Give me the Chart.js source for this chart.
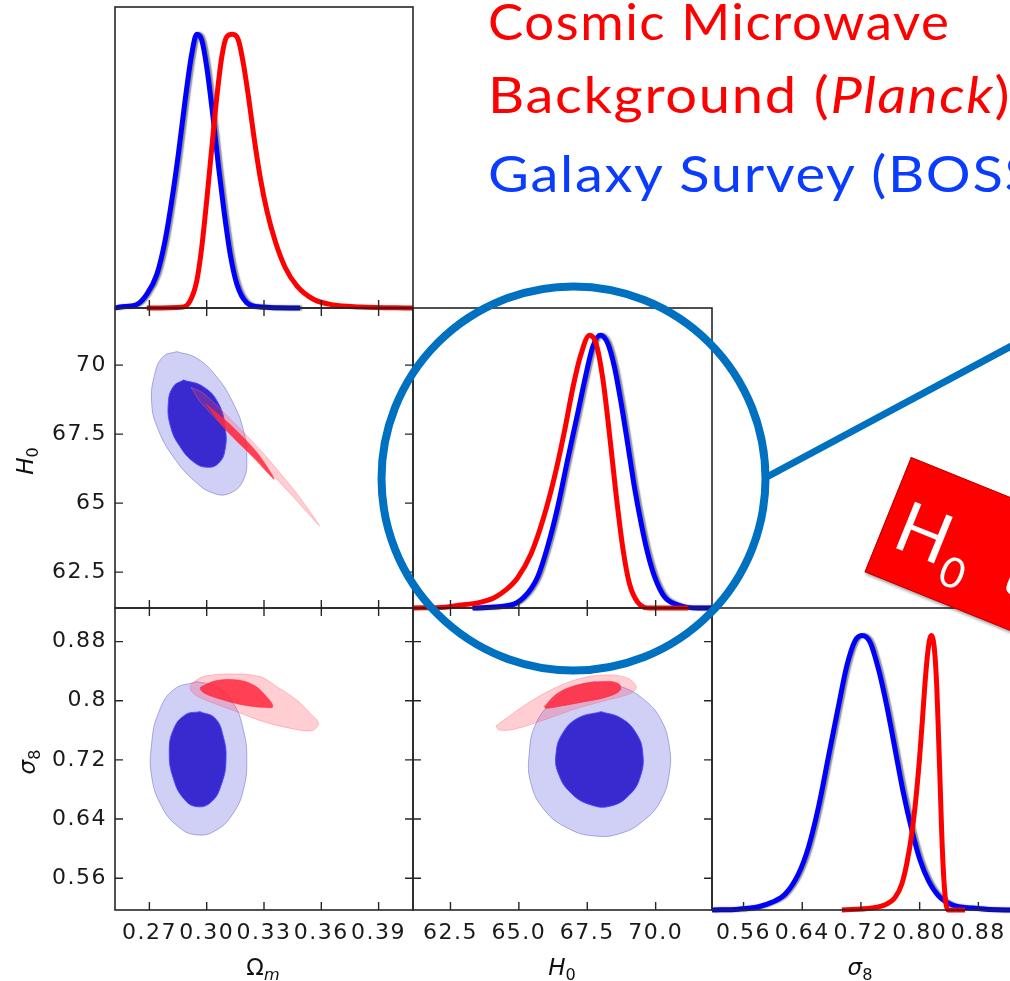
<!DOCTYPE html>
<html>
<head>
<meta charset="utf-8">
<script src="https://cdn.jsdelivr.net/npm/chart.js@4.4.1/dist/chart.umd.min.js"></script>
<style>
  html, body { margin: 0; padding: 0; background: #fff; }
  #page { position: relative; width: 1010px; height: 981px; overflow: hidden; background: #fff; }
  canvas.panel { position: absolute; left: 0; top: 0; }
  .ttl { position: absolute; left: 488px; font-family: "Lato"; font-size: 51px; line-height: 51px; white-space: nowrap;
         letter-spacing: 1.5px; transform-origin: 0 0; }
  .red { color: #ff0000; }
  .blue { color: #0a3cff; }
  .lab { position: absolute; transform: translate(-50%, -50%); font-family: "DejaVu Sans"; font-size: 23px; color: #111; white-space: nowrap; }
  .lab sub { font-size: 70%; vertical-align: -0.3em; line-height: 0; }
  #tag { position: absolute; left: 911px; top: 457px; width: 420px; height: 124px; background: #ff0000;
         transform-origin: 0 0; transform: rotate(22deg); box-shadow: 2px 2px 3px rgba(0,0,0,0.35); border: 1px solid #c00000; box-sizing: border-box; }
  #tag span { position: absolute; left: 13px; top: 27px; font-family: "Lato"; font-size: 70px; line-height: 70px; color: #fff;
              white-space: nowrap; letter-spacing: 2px; word-spacing: 14px; }
  #tag sub { font-size: 60%; vertical-align: -0.4em; line-height: 0; }
</style>
</head>
<body>
<div id="page">
  <canvas id="pOm" class="panel" width="1040" height="981"></canvas>
  <canvas id="pOmH0" class="panel" width="1040" height="981"></canvas>
  <canvas id="pH0" class="panel" width="1040" height="981"></canvas>
  <canvas id="pOmS8" class="panel" width="1040" height="981"></canvas>
  <canvas id="pH0S8" class="panel" width="1040" height="981"></canvas>
  <canvas id="pS8" class="panel" width="1040" height="981"></canvas>

  <svg width="1010" height="981" style="position:absolute;left:0;top:0">
    <circle cx="573.5" cy="478.5" r="192" fill="none" stroke="#0070c0" stroke-width="8"/>
    <line x1="764" y1="478.5" x2="1030" y2="336" stroke="#0070c0" stroke-width="7"/>
  </svg>

  <div class="ttl red" style="top:-5px;transform:scaleX(1.035)">Cosmic Microwave</div>
  <div class="ttl red" style="top:68px;transform:scaleX(1.1)">Background (<i>Planck</i>)</div>
  <div class="ttl blue" style="top:147px;transform:scaleX(1.1)">Galaxy Survey (BOSS)</div>

  <div id="tag"><span>H<sub>0</sub> tension</span></div>

  <div class="lab" style="left:263px;top:967px">&Omega;<sub><i>m</i></sub></div>
  <div class="lab" style="left:562px;top:967px"><i>H</i><sub>0</sub></div>
  <div class="lab" style="left:860px;top:967px"><i>&sigma;</i><sub>8</sub></div>
  <div class="lab" style="left:25px;top:461px;transform:translate(-50%,-50%) rotate(-90deg)"><i>H</i><sub>0</sub></div>
  <div class="lab" style="left:27px;top:762px;transform:translate(-50%,-50%) rotate(-90deg)"><i>&sigma;</i><sub>8</sub></div>
</div>

<script>
// axis ranges and ticks
const omRange = [0.252, 0.408];
const h0RangeX = [61.13, 72.06];
const h0RangeY = [61.2, 72.07];
const s8RangeX = [0.517, 0.9245];
const s8RangeY = [0.517, 0.9255];
const omTicks = [0.27, 0.30, 0.33, 0.36, 0.39];
const omLabels = ["0.27", "0.30", "0.33", "0.36", "0.39"];
const h0Ticks = [62.5, 65, 67.5, 70];
const h0LabelsX = ["62.5", "65.0", "67.5", "70.0"];
const h0LabelsY = ["62.5", "65", "67.5", "70"];
const s8Ticks = [0.56, 0.64, 0.72, 0.80, 0.88];
const s8LabelsX = ["0.56", "0.64", "0.72", "0.80", "0.88"];
const s8LabelsY = ["0.56", "0.64", "0.72", "0.8", "0.88"];

// 1D marginals (normalised to peak = 1)
const omPlanckX = [0.2686, 0.2878, 0.2913, 0.2948, 0.2974, 0.3000, 0.3027, 0.3053, 0.3079, 0.3105, 0.3135, 0.3166, 0.3192, 0.3219, 0.3245, 0.3280, 0.3315, 0.3358, 0.3411, 0.3472, 0.3559, 0.3664, 0.3803, 0.4080];
const omPlanckY = [0, 0.004, 0.026, 0.099, 0.221, 0.392, 0.588, 0.771, 0.918, 0.991, 1.0, 0.979, 0.893, 0.771, 0.637, 0.478, 0.356, 0.246, 0.148, 0.081, 0.032, 0.011, 0.004, 0];
const omBossX = [0.252, 0.2547, 0.2634, 0.2686, 0.2739, 0.2782, 0.2817, 0.2852, 0.2887, 0.2922, 0.2948, 0.2974, 0.3000, 0.3035, 0.3062, 0.3088, 0.3123, 0.3158, 0.3210, 0.3280, 0.3489];
const omBossY = [0, 0.004, 0.013, 0.050, 0.123, 0.246, 0.392, 0.564, 0.759, 0.930, 1.0, 0.979, 0.881, 0.686, 0.515, 0.368, 0.197, 0.087, 0.019, 0.004, 0];

const h0PlanckX = [61.13, 62.3, 62.9, 63.5, 64.1, 64.55, 64.95, 65.45, 65.9, 66.3, 66.65, 67.0, 67.27, 67.58, 67.82, 68.07, 68.31, 68.55, 68.8, 69.04, 69.35, 69.8, 71.2];
const h0PlanckY = [0, 0.003, 0.011, 0.019, 0.038, 0.068, 0.11, 0.2, 0.33, 0.48, 0.64, 0.82, 0.93, 1.0, 0.97, 0.84, 0.64, 0.42, 0.22, 0.09, 0.02, 0, 0];
const h0BossX = [63.3, 64.71, 65.2, 65.69, 66.05, 66.42, 66.78, 67.15, 67.46, 67.70, 67.97, 68.25, 68.49, 68.74, 68.98, 69.22, 69.47, 69.71, 69.96, 70.32, 70.81, 71.54, 72.06];
const h0BossY = [0, 0.011, 0.041, 0.115, 0.225, 0.37, 0.543, 0.714, 0.86, 0.958, 1.0, 0.97, 0.885, 0.75, 0.60, 0.445, 0.31, 0.2, 0.115, 0.041, 0.011, 0, 0];

const s8BossX = [0.517, 0.5532, 0.5805, 0.5986, 0.6168, 0.6349, 0.6486, 0.6622, 0.6758, 0.6894, 0.7008, 0.7121, 0.7212, 0.7325, 0.7439, 0.7552, 0.7666, 0.7779, 0.7893, 0.8006, 0.8120, 0.8256, 0.8437, 0.8710, 0.9164, 0.9245];
const s8BossY = [0, 0.003, 0.012, 0.028, 0.058, 0.132, 0.230, 0.376, 0.560, 0.743, 0.890, 0.981, 1.0, 0.975, 0.877, 0.743, 0.584, 0.425, 0.291, 0.181, 0.107, 0.052, 0.019, 0.007, 0, 0];
const s8PlanckX = [0.6939, 0.7348, 0.7530, 0.7666, 0.7757, 0.7825, 0.7893, 0.7947, 0.7997, 0.8038, 0.8074, 0.8111, 0.8156, 0.8201, 0.8233, 0.8256, 0.8279, 0.8301, 0.8328, 0.8356, 0.8383, 0.8619];
const s8PlanckY = [0, 0.007, 0.019, 0.046, 0.095, 0.169, 0.278, 0.401, 0.547, 0.694, 0.829, 0.939, 1.0, 0.951, 0.816, 0.645, 0.462, 0.278, 0.120, 0.028, 0, 0];

// 2D contours (68% inner, 95% outer)
const omH0BossOuterX = [0.2843, 0.2948, 0.3052, 0.3139, 0.3192, 0.3210, 0.3192, 0.3122, 0.3035, 0.2930, 0.2825, 0.2747, 0.2712, 0.2729, 0.2773, 0.2843];
const omH0BossOuterY = [70.49, 70.25, 69.58, 68.62, 67.65, 66.68, 65.84, 65.36, 65.36, 65.84, 66.68, 67.65, 68.62, 69.70, 70.31, 70.49];
const omH0BossInnerX = [0.2878, 0.2982, 0.3061, 0.3096, 0.3096, 0.3061, 0.3000, 0.2930, 0.2860, 0.2811, 0.2799, 0.2825, 0.2878];
const omH0BossInnerY = [69.46, 69.22, 68.62, 67.77, 66.93, 66.44, 66.30, 66.50, 67.05, 67.77, 68.62, 69.22, 69.46];
const omH0PlanckOuterX = [0.2918, 0.2982, 0.3122, 0.3297, 0.3471, 0.3590, 0.3453, 0.3279, 0.3105, 0.2965, 0.2918];
const omH0PlanckOuterY = [69.20, 68.98, 68.07, 66.80, 65.36, 64.18, 65.23, 66.50, 67.65, 68.68, 69.20];
const omH0PlanckInnerX = [0.2996, 0.3122, 0.3262, 0.3353, 0.3244, 0.3105, 0.2996];
const omH0PlanckInnerY = [68.59, 67.85, 66.84, 65.87, 66.66, 67.62, 68.59];

const omS8BossOuterX = [0.2948, 0.3052, 0.3139, 0.3192, 0.3210, 0.3192, 0.3139, 0.3052, 0.2948, 0.2851, 0.2765, 0.2712, 0.2712, 0.2747, 0.2825, 0.2948];
const omS8BossOuterY = [0.8259, 0.8191, 0.7967, 0.7606, 0.7200, 0.6794, 0.6479, 0.6253, 0.6186, 0.6298, 0.6568, 0.6974, 0.7426, 0.7832, 0.8147, 0.8259];
const omS8BossInnerX = [0.2965, 0.3044, 0.3087, 0.3101, 0.3079, 0.3026, 0.2948, 0.2878, 0.2825, 0.2804, 0.2825, 0.2887, 0.2965];
const omS8BossInnerY = [0.7853, 0.7764, 0.7515, 0.7200, 0.6885, 0.6636, 0.6568, 0.6682, 0.6953, 0.7291, 0.7606, 0.7809, 0.7853];
const omS8PlanckOuterX = [0.2922, 0.2982, 0.3122, 0.3279, 0.3367, 0.3471, 0.3541, 0.3585, 0.3550, 0.3436, 0.3297, 0.3157, 0.3035, 0.2939, 0.2913, 0.2922];
const omS8PlanckOuterY = [0.8237, 0.8327, 0.8363, 0.8327, 0.8191, 0.8011, 0.7832, 0.7696, 0.7596, 0.7629, 0.7718, 0.7853, 0.7967, 0.8079, 0.8170, 0.8237];
const omS8PlanckInnerX = [0.2991, 0.3052, 0.3157, 0.3244, 0.3305, 0.3346, 0.3297, 0.3192, 0.3087, 0.2989, 0.2966, 0.2991];
const omS8PlanckInnerY = [0.8214, 0.8273, 0.8282, 0.8214, 0.8079, 0.7921, 0.7912, 0.7944, 0.8011, 0.8102, 0.8170, 0.8214];

const h0S8BossOuterX = [67.76, 68.74, 69.59, 70.20, 70.50, 70.50, 70.20, 69.59, 68.74, 67.76, 66.79, 65.93, 65.44, 65.38, 65.63, 66.30, 67.03, 67.76];
const h0S8BossOuterY = [0.8259, 0.8191, 0.8011, 0.7741, 0.7380, 0.7020, 0.6659, 0.6389, 0.6209, 0.6172, 0.6276, 0.6524, 0.6885, 0.7291, 0.7696, 0.8011, 0.8191, 0.8259];
const h0S8BossInnerX = [68.01, 68.74, 69.29, 69.53, 69.44, 69.04, 68.37, 67.64, 66.91, 66.44, 66.36, 66.60, 67.15, 68.01];
const h0S8BossInnerY = [0.7853, 0.7764, 0.7561, 0.7291, 0.6974, 0.6727, 0.6578, 0.6591, 0.6750, 0.7020, 0.7291, 0.7561, 0.7764, 0.7853];
const h0S8PlanckOuterX = [64.16, 64.59, 65.32, 66.30, 67.27, 68.25, 68.98, 69.29, 69.10, 68.25, 67.15, 65.93, 64.83, 64.28, 64.16];
const h0S8PlanckOuterY = [0.7660, 0.7777, 0.7967, 0.8170, 0.8305, 0.8350, 0.8305, 0.8191, 0.8102, 0.8011, 0.7899, 0.7741, 0.7615, 0.7606, 0.7660];
const h0S8PlanckInnerX = [65.93, 66.42, 67.15, 68.01, 68.62, 68.71, 68.25, 67.40, 66.54, 65.99, 65.93];
const h0S8PlanckInnerY = [0.7921, 0.8102, 0.8214, 0.8259, 0.8237, 0.8147, 0.8056, 0.7988, 0.7930, 0.7899, 0.7921];

const W = 1040, H = 981;
const BLUE = "#0000ff", RED = "#ff0000";

function pts(xs, ys) { return xs.map((x, i) => ({ x: x, y: ys[i] })); }

// 1D curve, blue ones get a grey "shadow" like the grey chain under them
function curve(xs, ys, color, order, shadow) {
  return { data: pts(xs, ys), borderColor: color, borderWidth: 5, pointRadius: 0, fill: false,
           cubicInterpolationMode: "monotone", order: order, shadow: shadow,
           clip: { left: 0, right: 0, top: 0, bottom: 4 } };
}
function region(xs, ys, fillCol, edge, order, tension) {
  return { data: pts(xs, ys), fill: "shape", backgroundColor: fillCol, borderColor: edge, borderWidth: 1,
           pointRadius: 0, tension: tension, order: order };
}

function axis(pos, range, ticks, labels, size) {
  const a = {
    type: "linear", position: pos, min: range[0], max: range[1], display: size > 0,
    grid: { display: false, drawTicks: false }, border: { display: false },
    afterBuildTicks: s => { s.ticks = ticks.map(v => ({ value: v })); },
    ticks: { autoSkip: false, maxRotation: 0, minRotation: 0, padding: pos === "left" ? 8 : 10,
             font: { family: "DejaVu Sans", size: 22 }, color: "#1a1a1a",
             callback: (v, i) => labels[i] }
  };
  if (size > 0) a.afterFit = s => { if (pos === "left") s.width = size; else s.height = size; };
  return a;
}

// frame and inward ticks
const frameTicks = {
  id: "frameTicks",
  beforeDraw(chart) { chart.ctx.letterSpacing = "1.5px"; },
  afterDraw(chart, args, o) {
    const { ctx, chartArea: a, scales } = chart;
    ctx.save();
    ctx.strokeStyle = "#262626";
    ctx.lineWidth = 1.6;
    ctx.strokeRect(a.left, a.top, a.right - a.left, a.bottom - a.top);
    ctx.lineWidth = 1.4;
    ctx.beginPath();
    (o.xTicks || []).forEach(v => {
      const px = scales.x.getPixelForValue(v);
      ctx.moveTo(px, a.bottom); ctx.lineTo(px, a.bottom - 8);
      if (o.box) { ctx.moveTo(px, a.top); ctx.lineTo(px, a.top + 8); }
    });
    (o.yTicks || []).forEach(v => {
      const py = scales.y.getPixelForValue(v);
      ctx.moveTo(a.left, py); ctx.lineTo(a.left + 8, py);
      ctx.moveTo(a.right, py); ctx.lineTo(a.right - 8, py);
    });
    ctx.stroke();
    ctx.restore();
  }
};
const greyShadow = {
  id: "greyShadow",
  beforeDatasetDraw(chart, args) {
    if (!chart.data.datasets[args.index].shadow) return;
    const ctx = chart.ctx;
    ctx.save();
    ctx.shadowColor = "rgba(0,0,0,0.45)";
    ctx.shadowOffsetX = 2;
    ctx.shadowBlur = 1.5;
  },
  afterDatasetDraw(chart, args) {
    if (chart.data.datasets[args.index].shadow) chart.ctx.restore();
  }
};

// box = [left, top, right, bottom] of the plot area
function panel(id, box, datasets, xAx, yAx, tickOpts, showLeft, showBottom) {
  return new Chart(document.getElementById(id), {
    type: "line",
    data: { datasets: datasets },
    options: {
      responsive: false, animation: false, events: [],
      layout: { padding: { left: showLeft ? 0 : box[0], top: box[1], right: W - box[2], bottom: showBottom ? 0 : H - box[3] } },
      plugins: { legend: { display: false }, tooltip: { enabled: false }, frameTicks: tickOpts },
      scales: { x: xAx, y: yAx }
    },
    plugins: [frameTicks, greyShadow]
  });
}

const oneD = [0, 1.1];
const col = [[115, 413], [413, 712], [712, 1011]];
const row = [[7, 308], [308, 608], [608, 910]];

const bOut = "rgba(100,100,225,0.3)", bOutEdge = "rgba(110,110,200,0.55)";
const bIn = "rgb(56,42,206)", bInEdge = "rgba(70,70,255,0.9)";
const rOut = "rgba(255,60,80,0.25)", rOutEdge = "rgba(255,110,120,0.4)";
const rIn = "rgba(255,40,60,0.85)", rInEdge = "rgba(255,40,60,0.6)";

// Omega_m marginal
panel("pOm", [col[0][0], row[0][0], col[0][1], row[0][1]],
  [curve(omPlanckX, omPlanckY, RED, 1, false), curve(omBossX, omBossY, BLUE, 2, true)],
  axis("bottom", omRange, omTicks, omLabels, 0), axis("left", oneD, [], [], 0),
  { xTicks: omTicks }, false, false);

// Omega_m - H0
panel("pOmH0", [col[0][0], row[1][0], col[0][1], row[1][1]],
  [region(omH0PlanckInnerX, omH0PlanckInnerY, rIn, rInEdge, 1, 0.3),
   region(omH0PlanckOuterX, omH0PlanckOuterY, rOut, rOutEdge, 2, 0.2),
   region(omH0BossInnerX, omH0BossInnerY, bIn, bInEdge, 3, 0.45),
   region(omH0BossOuterX, omH0BossOuterY, bOut, bOutEdge, 4, 0.45)],
  axis("bottom", omRange, omTicks, omLabels, 0), axis("left", h0RangeY, h0Ticks, h0LabelsY, 115),
  { xTicks: omTicks, yTicks: h0Ticks, box: true }, true, false);

// H0 marginal
panel("pH0", [col[1][0], row[1][0], col[1][1], row[1][1]],
  [curve(h0PlanckX, h0PlanckY, RED, 1, false), curve(h0BossX, h0BossY, BLUE, 2, true)],
  axis("bottom", h0RangeX, h0Ticks, h0LabelsX, 0), axis("left", oneD, [], [], 0),
  { xTicks: h0Ticks }, false, false);

// Omega_m - sigma8
panel("pOmS8", [col[0][0], row[2][0], col[0][1], row[2][1]],
  [region(omS8PlanckInnerX, omS8PlanckInnerY, rIn, rInEdge, 1, 0.4),
   region(omS8PlanckOuterX, omS8PlanckOuterY, rOut, rOutEdge, 2, 0.35),
   region(omS8BossInnerX, omS8BossInnerY, bIn, bInEdge, 3, 0.45),
   region(omS8BossOuterX, omS8BossOuterY, bOut, bOutEdge, 4, 0.45)],
  axis("bottom", omRange, omTicks, omLabels, H - row[2][1]), axis("left", s8RangeY, s8Ticks, s8LabelsY, 115),
  { xTicks: omTicks, yTicks: s8Ticks, box: true }, true, true);

// H0 - sigma8
panel("pH0S8", [col[1][0], row[2][0], col[1][1], row[2][1]],
  [region(h0S8PlanckInnerX, h0S8PlanckInnerY, rIn, rInEdge, 1, 0.4),
   region(h0S8PlanckOuterX, h0S8PlanckOuterY, rOut, rOutEdge, 2, 0.35),
   region(h0S8BossInnerX, h0S8BossInnerY, bIn, bInEdge, 3, 0.45),
   region(h0S8BossOuterX, h0S8BossOuterY, bOut, bOutEdge, 4, 0.45)],
  axis("bottom", h0RangeX, h0Ticks, h0LabelsX, H - row[2][1]), axis("left", s8RangeY, s8Ticks, s8LabelsY, 0),
  { xTicks: h0Ticks, yTicks: s8Ticks, box: true }, false, true);

// sigma8 marginal
panel("pS8", [col[2][0], row[2][0], col[2][1], row[2][1]],
  [curve(s8PlanckX, s8PlanckY, RED, 1, false), curve(s8BossX, s8BossY, BLUE, 2, true)],
  axis("bottom", s8RangeX, s8Ticks, s8LabelsX, H - row[2][1]), axis("left", oneD, [], [], 0),
  { xTicks: s8Ticks }, false, true);
</script>
</body>
</html>
